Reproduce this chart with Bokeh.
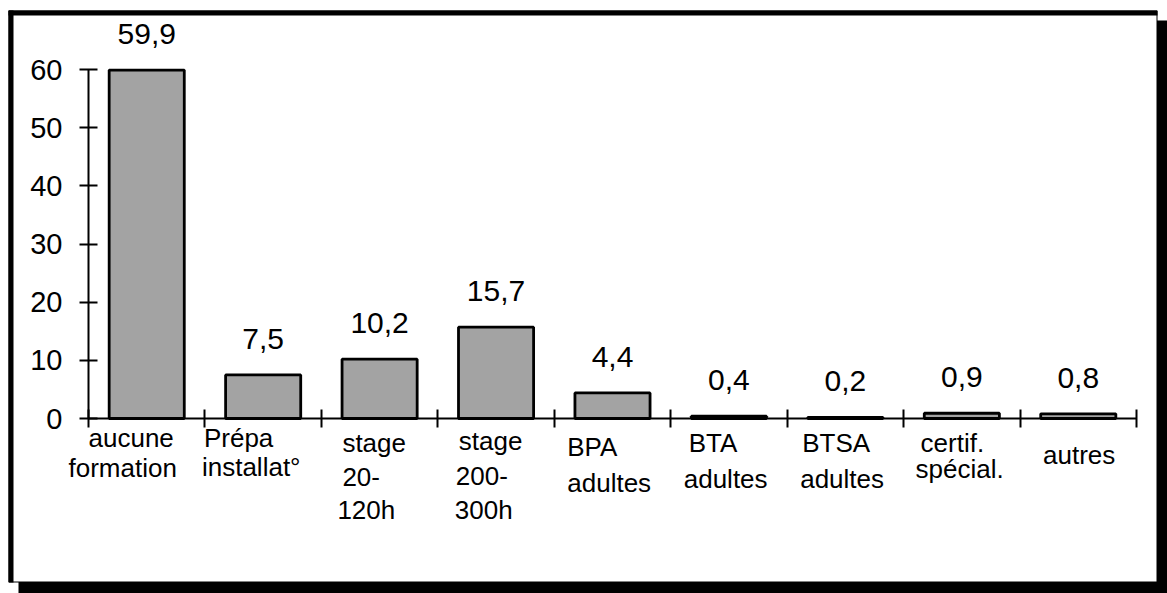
from bokeh.plotting import figure
from bokeh.models import FixedTicker, ColumnDataSource
from bokeh.core.properties import value
from bokeh.embed import file_html
from bokeh.resources import INLINE

# ---- data ----
categories = ["aucune formation", "Prépa installat°", "stage 20-120h", "stage 200-300h",
              "BPA adultes", "BTA adultes", "BTSA adultes", "certif. spécial.", "autres"]
label_lines = [["aucune", "formation"], ["Prépa", "installat°"], ["stage", "20-", "120h"],
               ["stage", "200-", "300h"], ["BPA", "adultes"], ["BTA", "adultes"],
               ["BTSA", "adultes"], ["certif.", "spécial."], ["autres"]]
values = [59.9, 7.5, 10.2, 15.7, 4.4, 0.4, 0.2, 0.9, 0.8]
y_ticks = [0, 10, 20, 30, 40, 50, 60]

# ---- layout (pixel offsets of the category label lines from each cell's left edge) ----
line_dx = [[0, -20], [-1, -3], [21, 21, 16], [21, 18, 17], [13, 13], [18, 13], [15, 13], [17, 12], [23]]
line_dy = [[19, 49], [19, 48], [24, 58, 91], [22, 57, 91], [28, 64], [24, 60], [24, 60], [24, 50], [36]]

FONT = "Liberation Sans"
n = len(categories)

W, H = 1167, 593
X0, X1 = 88, 1136           # px of x = 0 and x = n
Y0, Y60 = 418, 69           # px of y = 0 and y = 60
sx = (X1 - X0) / n
sy = (Y0 - Y60) / 60.0


def px2x(px):
    return (px - X0) / sx


def py2y(py):
    return (Y0 - py) / sy


p = figure(width=W, height=H, output_backend="svg", toolbar_location=None,
           x_range=(px2x(0), px2x(W)), y_range=(py2y(H), py2y(0)),
           min_border=0, min_border_left=0, min_border_right=0,
           min_border_top=0, min_border_bottom=0)
p.outline_line_color = None
p.grid.visible = False
p.background_fill_color = "white"
p.border_fill_color = "white"

# ---- page frame with drop shadow (decoration) ----
p.quad(left=px2x(18), right=px2x(W + 2), bottom=py2y(H + 2), top=py2y(20),
       fill_color="black", line_color=None)                       # shadow
p.quad(left=px2x(8.5), right=px2x(1156.5), bottom=py2y(581.5), top=py2y(10.5),
       fill_color="white", line_color="black", line_width=1)      # white box
p.quad(left=px2x(8), right=px2x(13), bottom=py2y(582), top=py2y(10),
       fill_color="black", line_color=None)                       # left border
p.quad(left=px2x(8), right=px2x(1157), bottom=py2y(15), top=py2y(10),
       fill_color="black", line_color=None)                       # top border

# ---- bars ----
centers = [i + 0.5 for i in range(n)]
src = ColumnDataSource(dict(x=centers, top=values,
                            lab=[f"{v:.1f}".replace(".", ",") for v in values]))
p.vbar(x="x", top="top", bottom=0, width=0.645, source=src,
       fill_color="#a3a3a3", line_color="black", line_width=2.8)

# value labels
p.text(x="x", y="top", text="lab", source=src, text_align="center", text_baseline="alphabetic",
       y_offset=-36, text_font=value(FONT), text_font_size="30px", text_color="black")

# category labels
xs, ys, txt, dxs, dys = [], [], [], [], []
for i, lines in enumerate(label_lines):
    for j, t in enumerate(lines):
        xs.append(i); ys.append(0); txt.append(t)
        dxs.append(line_dx[i][j]); dys.append(line_dy[i][j])
p.text(x=xs, y=ys, text=txt, x_offset=dxs, y_offset=dys, text_align="left",
       text_baseline="alphabetic", text_font=value(FONT), text_font_size="26px", text_color="black")

# ---- axes ----
xa = p.xaxis[0]
xa.ticker = FixedTicker(ticks=list(range(n + 1)), minor_ticks=[])
xa.fixed_location = 0
xa.bounds = (0, n)
xa.major_label_overrides = {i: "" for i in range(n + 1)}
xa.major_tick_in = 9
xa.major_tick_out = 9
xa.axis_line_width = 2
xa.major_tick_line_width = 2
xa.minor_tick_line_color = None

ya = p.yaxis[0]
ya.ticker = FixedTicker(ticks=y_ticks, minor_ticks=[])
ya.fixed_location = 0
ya.bounds = (0, 60)
ya.major_tick_in = 9
ya.major_tick_out = 9
ya.axis_line_width = 2
ya.major_tick_line_width = 2
ya.minor_tick_line_color = None
ya.major_label_standoff = 17
ya.major_label_text_font = FONT
ya.major_label_text_font_size = "29px"
ya.major_label_text_color = "black"

open("out.html", "w").write(file_html(p, INLINE))
